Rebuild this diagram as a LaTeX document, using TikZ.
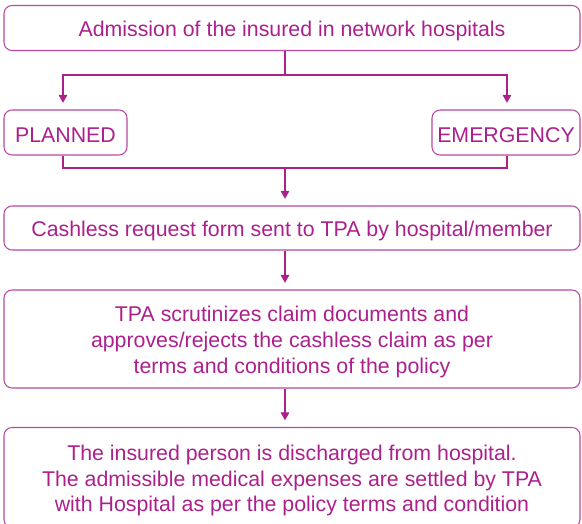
\documentclass[tikz,border=0pt]{standalone}
\usepackage{fontspec}
\setmainfont{Liberation Sans}
\usetikzlibrary{arrows.meta}
\definecolor{txt}{RGB}{172,32,140}
\definecolor{brd}{RGB}{184,72,160}
\tikzset{
  box/.style={draw=brd, line width=0.8pt, rounded corners=6pt, inner sep=0pt},
  lbl/.style={text=txt, align=center, font=\fontsize{16}{19.3}\selectfont, inner sep=0pt, yshift=-2.3pt},
  conn/.style={draw=txt, line width=0.8pt},
  arr/.style={conn, -{Triangle[length=6pt,width=6.5pt]}, shorten >=5pt}
}
\begin{document}
\begin{tikzpicture}[x=0.75pt,y=-0.75pt]
\useasboundingbox (0,0) rectangle (582,524);
\begin{scope}
\clip (0,0) rectangle (582,524);
\node[box, minimum width=432pt, minimum height=33.75pt, label={[lbl]center:{Admission of the insured in network hospitals}}] (b1) at (292,28) {};
\node[box, minimum width=92.25pt, minimum height=33.75pt, label={[lbl]center:{PLANNED}}] (pl) at (65.5,132.5) {};
\node[box, minimum width=111pt, minimum height=33.75pt, label={[lbl]center:{EMERGENCY}}] (em) at (506,132.5) {};
\node[box, minimum width=432pt, minimum height=33pt, label={[lbl]center:{Cashless request form sent to TPA by hospital/member}}] (b3) at (292,228) {};
\node[box, minimum width=432pt, minimum height=73.5pt, label={[lbl]center:{TPA scrutinizes claim documents and\\approves/rejects the cashless claim as per\\terms and conditions of the policy}}] (b4) at (292,339) {};
\node[box, minimum width=432pt, minimum height=75pt, label={[lbl]center:{The insured person is discharged from hospital.\\The admissible medical expenses are settled by TPA\\with Hospital as per the policy terms and condition}}] (b5) at (292,477.5) {};
\end{scope}
\coordinate (s) at (285,75);
\coordinate (jl) at (63,75);
\coordinate (jr) at (507,75);
\coordinate (m) at (285,168);
\draw[conn] (b1.south -| s) -- (s);
\draw[arr] (s) -| (pl.north -| jl);
\draw[arr] (s) -| (em.north -| jr);
\draw[conn] (pl.south -| jl) |- (m);
\draw[conn] (em.south -| jr) |- (m);
\draw[arr] (m) -- (b3.north -| m);
\draw[arr] (b3.south -| m) -- (b4.north -| m);
\draw[arr] (b4.south -| m) -- (b5.north -| m);
\end{tikzpicture}
\end{document}
